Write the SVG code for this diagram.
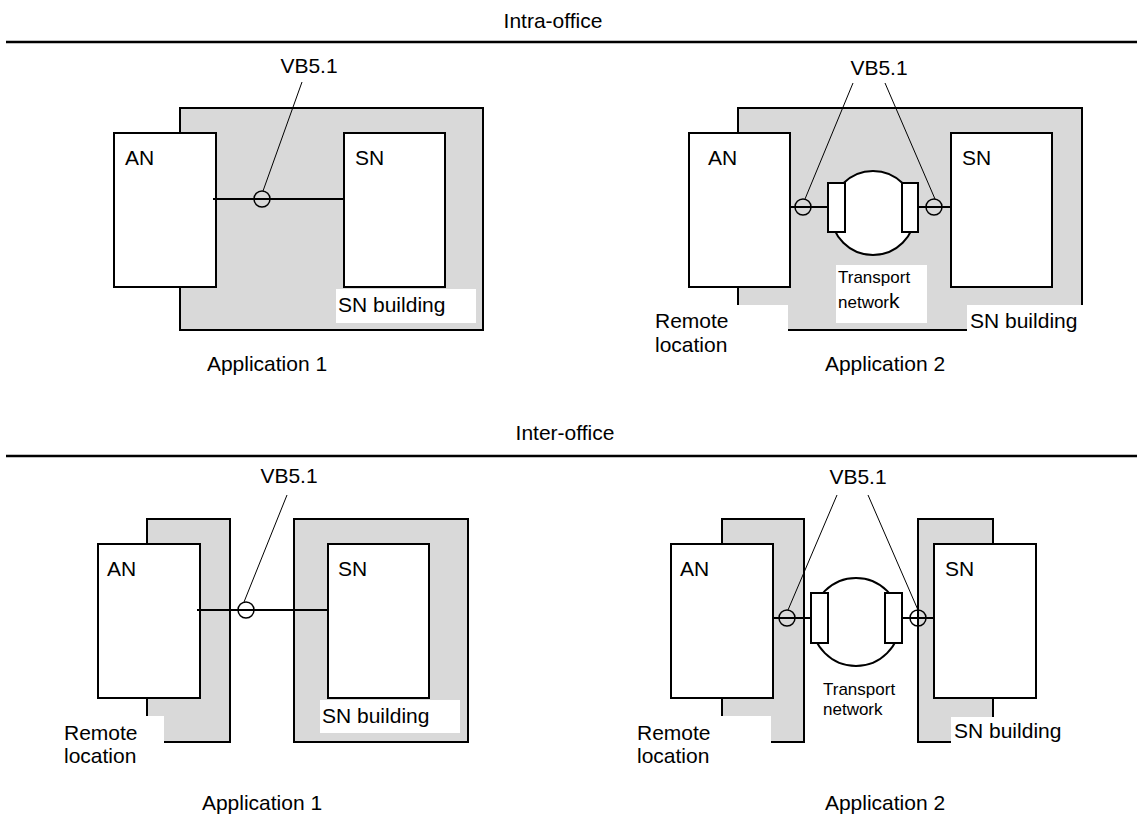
<svg xmlns="http://www.w3.org/2000/svg" width="1137" height="814" viewBox="0 0 1137 814">
<style>
text{font-family:"Liberation Sans",Arial,sans-serif;font-size:21px;fill:#000}
.small{font-size:17px}
.mid{text-anchor:middle}
.bld{fill:#d9d9d9;stroke:#000;stroke-width:2}
.box{fill:#fff;stroke:#000;stroke-width:2}
.wh{fill:#fff;stroke:none}
.edge{fill:none;stroke:#000;stroke-width:2}
.ring{fill:none;stroke:#000;stroke-width:1.5}
.lead{fill:none;stroke:#000;stroke-width:1}
.rule{stroke:#000;stroke-width:2.5}
</style>
<rect width="1137" height="814" fill="#fff"/>

<g id="headers">
<text class="mid" x="553" y="28">Intra-office</text>
<line class="rule" x1="6" y1="42" x2="1137" y2="42"/>
<text class="mid" x="565" y="440">Inter-office</text>
<line class="rule" x1="6" y1="456" x2="1137" y2="456"/>
</g>

<!-- Top-left: Intra-office Application 1 -->
<g id="intra-app1">
<g id="intra1-building">
<rect class="bld" x="180" y="108" width="303" height="222"/>
<rect class="wh" x="336" y="289" width="140" height="34"/>
<text x="338" y="312">SN building</text>
</g>
<g id="intra1-an"><rect class="box" x="114" y="133" width="102" height="154"/><text x="125" y="165">AN</text></g>
<g id="intra1-sn"><rect class="box" x="344" y="133" width="101" height="154"/><text x="355" y="165">SN</text></g>
<g id="intra1-connectors">
<line class="edge" x1="213" y1="199" x2="344" y2="199"/>
<circle class="ring" cx="262" cy="199" r="8" fill="#d9d9d9"/>
<line class="lead" x1="263" y1="191" x2="302" y2="82"/>
</g>
<text class="mid" x="309" y="73">VB5.1</text>
<text class="mid" x="267" y="371">Application 1</text>
</g>

<!-- Top-right: Intra-office Application 2 -->
<g id="intra-app2">
<g id="intra2-building">
<rect class="bld" x="738" y="108" width="344" height="222"/>
<rect class="wh" x="640" y="305" width="148" height="60"/>
<rect class="wh" x="967" y="305" width="120" height="28"/>
<rect class="wh" x="836" y="265" width="91" height="58"/>
<text x="970" y="328">SN building</text>
<text class="small" x="838" y="283">Transport</text>
<text class="small" x="838" y="308">networ<tspan font-size="21">k</tspan></text>
</g>
<text x="655" y="328">Remote</text>
<text x="655" y="352">location</text>
<g id="intra2-an"><rect class="box" x="689" y="133" width="101" height="154"/><text x="708" y="165">AN</text></g>
<g id="intra2-sn"><rect class="box" x="951" y="133" width="101" height="154"/><text x="962" y="165">SN</text></g>
<g id="intra2-transport">
<circle class="box" cx="873" cy="213" r="42"/>
<rect class="box" x="828" y="183" width="17" height="49"/>
<rect class="box" x="902" y="183" width="16" height="49"/>
</g>
<g id="intra2-connectors">
<line class="edge" x1="790" y1="207" x2="828" y2="207"/>
<line class="edge" x1="918" y1="207" x2="951" y2="207"/>
<circle class="ring" cx="803" cy="207" r="8"/>
<circle class="ring" cx="934" cy="207" r="8"/>
<line class="lead" x1="805" y1="199" x2="853" y2="83"/>
<line class="lead" x1="935" y1="199" x2="885" y2="83"/>
</g>
<text class="mid" x="879" y="75">VB5.1</text>
<text class="mid" x="885" y="371">Application 2</text>
</g>

<!-- Bottom-left: Inter-office Application 1 -->
<g id="inter-app1">
<g id="inter1-remote">
<rect class="bld" x="147" y="519" width="83" height="223"/>
<rect class="wh" x="55" y="716" width="109" height="60"/>
<text x="64" y="740">Remote</text>
<text x="64" y="763">location</text>
</g>
<g id="inter1-building">
<rect class="bld" x="294" y="519" width="174" height="223"/>
<rect class="wh" x="320" y="700" width="140" height="33"/>
<text x="322" y="723">SN building</text>
</g>
<g id="inter1-an"><rect class="box" x="98" y="544" width="102" height="154"/><text x="107" y="576">AN</text></g>
<g id="inter1-sn"><rect class="box" x="328" y="544" width="101" height="154"/><text x="338" y="576">SN</text></g>
<g id="inter1-connectors">
<line class="edge" x1="197" y1="610" x2="328" y2="610"/>
<circle class="ring" cx="246" cy="610" r="8" fill="#fff"/>
<line class="lead" x1="244" y1="602" x2="287" y2="495"/>
</g>
<text class="mid" x="289" y="483">VB5.1</text>
<text class="mid" x="262" y="810">Application 1</text>
</g>

<!-- Bottom-right: Inter-office Application 2 -->
<g id="inter-app2">
<g id="inter2-remote">
<rect class="bld" x="722" y="519" width="82" height="223"/>
<rect class="wh" x="628" y="716" width="143" height="60"/>
<text x="637" y="740">Remote</text>
<text x="637" y="763">location</text>
</g>
<g id="inter2-building">
<rect class="bld" x="918" y="519" width="75" height="223"/>
<rect class="wh" x="951" y="717" width="140" height="30"/>
<text x="954" y="738">SN building</text>
</g>
<g id="inter2-an"><rect class="box" x="671" y="544" width="102" height="154"/><text x="680" y="576">AN</text></g>
<g id="inter2-sn"><rect class="box" x="934" y="544" width="102" height="154"/><text x="945" y="576">SN</text></g>
<g id="inter2-transport">
<circle class="box" cx="856" cy="622" r="44"/>
<rect class="box" x="811" y="593" width="17" height="50"/>
<rect class="box" x="885" y="593" width="17" height="50"/>
<text class="small" x="823" y="695">Transport</text>
<text class="small" x="823" y="715">network</text>
</g>
<g id="inter2-connectors">
<line class="edge" x1="773" y1="618" x2="811" y2="618"/>
<line class="edge" x1="902" y1="618" x2="934" y2="618"/>
<circle class="ring" cx="787" cy="618" r="8"/>
<circle class="ring" cx="918" cy="618" r="8"/>
<line class="lead" x1="788" y1="610" x2="837" y2="495"/>
<line class="lead" x1="918" y1="610" x2="868" y2="495"/>
</g>
<text class="mid" x="858" y="484">VB5.1</text>
<text class="mid" x="885" y="810">Application 2</text>
</g>
</svg>
